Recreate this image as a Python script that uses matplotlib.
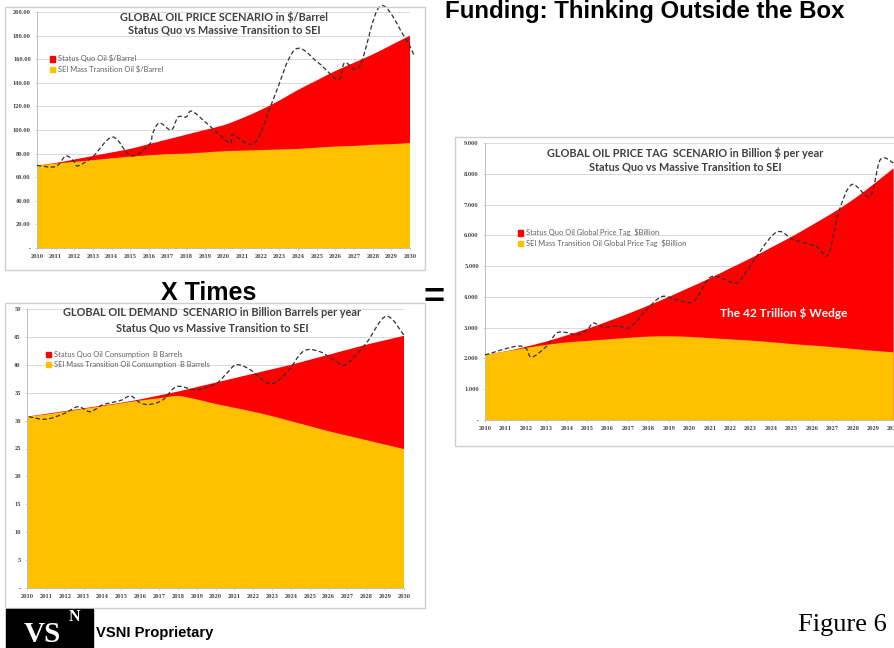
import matplotlib
matplotlib.use('Agg')
import matplotlib.pyplot as plt
from matplotlib.patches import Rectangle, Patch, PathPatch
from matplotlib.path import Path

W, H = 894, 648

# ---- data ----
years = list(range(2010, 2031))

price_sq = [70, 72, 75, 78, 81, 84, 88, 92, 96, 100, 104, 110, 117, 125, 134,
            142, 150, 157, 164, 172, 180]
price_sei = [70, 71.5, 73, 74.5, 76, 77.5, 78.5, 79.5, 80, 81, 82, 82.5, 83,
             83.5, 84, 85, 86, 86.5, 87.5, 88, 89]
price_hist_x = [2010, 2011, 2011.55, 2012, 2012.2, 2013, 2014.06, 2015.05, 2016.03,
                2016.2, 2016.57, 2017.2, 2017.56, 2018, 2018.3, 2019.08, 2020.33,
                2020.5, 2021.67, 2022.66, 2023.82, 2025.08, 2026.15, 2026.5,
                2027.3, 2028.4, 2029.7, 2030.2]
price_hist_y = [70, 69, 78, 73, 69.6, 77.5, 94, 78, 88, 97, 106, 100, 111, 111,
                116, 106, 89, 96, 89, 125.6, 168, 157, 142.6, 157, 154, 205, 179, 164]
price_yticks = ['-', '20.00', '40.00', '60.00', '80.00', '100.00', '120.00',
                '140.00', '160.00', '180.00', '200.00']

demand_sq = [30.7, 31.2, 31.7, 32.2, 32.7, 33.2, 33.8, 34.5, 35.2, 36.0, 36.8,
             37.6, 38.4, 39.2, 40.0, 40.9, 41.8, 42.7, 43.6, 44.4, 45.2]
demand_sei = [30.7, 31.1, 31.6, 32.1, 32.6, 33.1, 33.6, 34.0, 34.4, 33.8, 33.0,
              32.3, 31.6, 30.8, 29.9, 29.0, 28.1, 27.3, 26.5, 25.7, 24.9]
demand_hist_x = [2010.1, 2011, 2012, 2012.7, 2013.35, 2014, 2014.95, 2015.5, 2016,
                 2016.5, 2017.2, 2017.95, 2019, 2020.05, 2020.6, 2021.1, 2021.8,
                 2022.9, 2023.8, 2024.65, 2025.5, 2026.4, 2026.95, 2028, 2029.05, 2030]
demand_hist_y = [30.7, 30.25, 31.3, 32.5, 31.6, 32.8, 33.6, 34.4, 33.2, 32.9, 33.7,
                 36.1, 35.5, 36.7, 38.5, 40.0, 39.2, 36.6, 38.7, 42.4, 42.4, 40.6,
                 40.1, 43.9, 48.7, 45.3]
demand_yticks = ['-', '5', '10', '15', '20', '25', '30', '35', '40', '45', '50']

tag_sq = [2110, 2230, 2380, 2550, 2750, 2960, 3200, 3450, 3720, 4000, 4300, 4600,
          4930, 5250, 5600, 5950, 6330, 6720, 7150, 7650, 8180]
tag_sei = [2110, 2230, 2340, 2440, 2520, 2570, 2620, 2670, 2710, 2720, 2700, 2660,
           2620, 2580, 2530, 2470, 2420, 2370, 2310, 2250, 2200]
tag_hist_x = [2010, 2011.47, 2012, 2012.28, 2013, 2013.5, 2014, 2014.5, 2015, 2015.3,
              2015.8, 2016.5, 2017, 2017.5, 2017.9, 2018.65, 2019.4, 2020.2, 2020.9,
              2021.35, 2022.3, 2022.8, 2024.2, 2025.1, 2026.2, 2026.8, 2027.3, 2027.95,
              2028.85, 2029.35, 2030]
tag_hist_y = [2115, 2390, 2330, 2040, 2390, 2820, 2840, 2770, 2930, 3150, 3015, 3060,
              2980, 3275, 3580, 4010, 3905, 3850, 4555, 4660, 4450, 4830, 6075, 5860,
              5640, 5370, 6725, 7650, 7270, 8460, 8350]
tag_yticks = ['-', '1.000', '2.000', '3.000', '4.000', '5.000', '6.000', '7.000',
              '8.000', '9.000']

RED = '#ff0000'
YEL = '#ffc000'
TXT = '#404040'


def fx(x):
    return x / W


def fy(y):
    return 1 - y / H


def smooth_verts(xs, ys):
    # Excel-like smoothed line: catmull-rom segments as cubic beziers
    pts = list(zip(xs, ys))
    verts = [pts[0]]
    codes = [Path.MOVETO]
    n = len(pts)
    for i in range(n - 1):
        p0 = pts[max(i - 1, 0)]
        p1 = pts[i]
        p2 = pts[i + 1]
        p3 = pts[min(i + 2, n - 1)]
        c1 = (p1[0] + (p2[0] - p0[0]) / 6, p1[1] + (p2[1] - p0[1]) / 6)
        c2 = (p2[0] - (p3[0] - p1[0]) / 6, p2[1] - (p3[1] - p1[1]) / 6)
        verts += [c1, c2, p2]
        codes += [Path.CURVE4] * 3
    return verts, codes


def smooth_area(ax, xs, ys, color):
    v, c = smooth_verts(xs, ys)
    verts = [(xs[0], 0), (xs[0], ys[0])] + v[1:] + [(xs[-1], 0), (xs[0], 0)]
    codes = [Path.MOVETO, Path.LINETO] + c[1:] + [Path.LINETO, Path.CLOSEPOLY]
    ax.add_patch(PathPatch(Path(verts, codes), fc=color, ec='none', lw=0))


def smooth_line(ax, xs, ys):
    v, c = smooth_verts(xs, ys)
    ax.add_patch(PathPatch(Path(v, c), fc='none', ec='#303030', lw=0.9,
                           ls=(0, (3.5, 2)), clip_on=False, zorder=3))


fig = plt.figure(figsize=(W / 100, H / 100), dpi=100)


def box(x0, y0, x1, y1):
    fig.patches.append(Rectangle((fx(x0), fy(y1)), fx(x1) - fx(x0), fy(y0) - fy(y1),
                                 transform=fig.transFigure, fill=False,
                                 ec='#cfcfcf', lw=1))


def chart(left, right, top, bottom, sq, sei, hx, hy, ymax, ylabels,
          titles, title_x, title_y, labels, leg_xy):
    ax = fig.add_axes([fx(left), fy(bottom), fx(right) - fx(left), fy(top) - fy(bottom)])
    ax.set_axisbelow(True)
    smooth_area(ax, years, sq, RED)
    smooth_area(ax, years, sei, YEL)
    smooth_line(ax, hx, hy)
    ax.set_xlim(2010, 2030)
    ax.set_ylim(0, ymax)
    yt = [ymax * i / (len(ylabels) - 1) for i in range(len(ylabels))]
    ax.set_yticks(yt)
    ax.set_yticklabels(ylabels)
    ax.set_xticks(years)
    ax.set_xticklabels([str(y) for y in years])
    ax.grid(axis='y', color='#d9d9d9', lw=0.7)
    for s in ['top', 'right']:
        ax.spines[s].set_visible(False)
    for s in ['left', 'bottom']:
        ax.spines[s].set_color('#bfbfbf')
        ax.spines[s].set_linewidth(0.7)
    ax.tick_params(labelsize=3.3, colors=TXT, length=1.5, width=0.5, pad=3,
                   color='#bfbfbf')
    for lab in ax.get_xticklabels() + ax.get_yticklabels():
        lab.set_fontweight('bold')
        lab.set_family('DejaVu Serif')
    fig.text(fx(title_x), fy(title_y[0]), titles[0], ha='center', va='center',
             fontsize=7.8, fontweight='bold', color=TXT, family='Lato')
    fig.text(fx(title_x), fy(title_y[1]), titles[1], ha='center', va='center',
             fontsize=7.8, fontweight='bold', color=TXT, family='Lato')
    handles = [Patch(color=RED), Patch(color=YEL)]
    ax.legend(handles, labels, loc='upper left', bbox_to_anchor=(fx(leg_xy[0]), fy(leg_xy[1])),
              bbox_transform=fig.transFigure, frameon=False,
              handlelength=0.7, handleheight=0.7, handletextpad=0.35,
              labelspacing=0.4, borderpad=0, borderaxespad=0,
              labelcolor='#606060', prop={'family': 'Lato', 'size': 5.4})
    return ax


# panel frames
box(5, 7, 425, 270)
box(5, 303, 425, 608)
box(455, 137, 900, 446)

chart(37, 410, 12, 248, price_sq, price_sei, price_hist_x, price_hist_y, 200,
      price_yticks,
      ['GLOBAL OIL PRICE SCENARIO in $/Barrel', 'Status Quo vs Massive Transition to SEI'],
      224, (17, 30),
      ['Status Quo Oil $/Barrel', 'SEI Mass Transition Oil $/Barrel'], (50, 55))

chart(27, 404, 309, 588, demand_sq, demand_sei, demand_hist_x, demand_hist_y, 50,
      demand_yticks,
      ['GLOBAL OIL DEMAND  SCENARIO in Billion Barrels per year',
       'Status Quo vs Massive Transition to SEI'],
      212, (313, 328),
      ['Status Quo Oil Consumption  B Barrels', 'SEI Mass Transition Oil Consumption  B Barrels'],
      (46, 351))

chart(485, 893.6, 143, 420, tag_sq, tag_sei, tag_hist_x, tag_hist_y, 9000,
      tag_yticks,
      ['GLOBAL OIL PRICE TAG  SCENARIO in Billion $ per year',
       'Status Quo vs Massive Transition to SEI'],
      685, (153, 167),
      ['Status Quo Oil Global Price Tag  $Billion',
       'SEI Mass Transition Oil Global Price Tag  $Billion'],
      (518, 229))

fig.text(fx(784), fy(313), 'The 42 Trillion $ Wedge', ha='center', va='center',
         fontsize=8.6, fontweight='bold', color='white', family='Lato')

# slide texts
fig.text(fx(445), fy(18), 'Funding: Thinking Outside the Box', ha='left', va='baseline',
         fontsize=17.3, fontweight='bold', color='black', family='Liberation Sans')
fig.text(fx(209), fy(300), 'X Times', ha='center', va='baseline',
         fontsize=18, fontweight='bold', color='black', family='Liberation Sans')
fig.text(fx(434), fy(299), '=', ha='center', va='center',
         fontsize=26, fontweight='bold', color='black', family='Liberation Sans')

# footer logo
fig.patches.append(Rectangle((fx(6), fy(648)), fx(93) - fx(6), fy(609) - fy(648),
                             transform=fig.transFigure, color='black'))
fig.text(fx(42), fy(642), 'VS', ha='center', va='baseline', fontsize=21,
         fontweight='bold', color='white', family='Liberation Serif')
fig.text(fx(74), fy(621), 'N', ha='center', va='baseline', fontsize=11.5,
         fontweight='bold', color='white', family='Liberation Serif')
fig.text(fx(96), fy(637), 'VSNI Proprietary', ha='left', va='baseline', fontsize=10.6,
         fontweight='bold', color='black', family='Liberation Sans')
fig.text(fx(887), fy(631), 'Figure 6', ha='right', va='baseline', fontsize=19,
         color='black', family='Liberation Serif')

fig.savefig('out.png', dpi=100, facecolor='white')
